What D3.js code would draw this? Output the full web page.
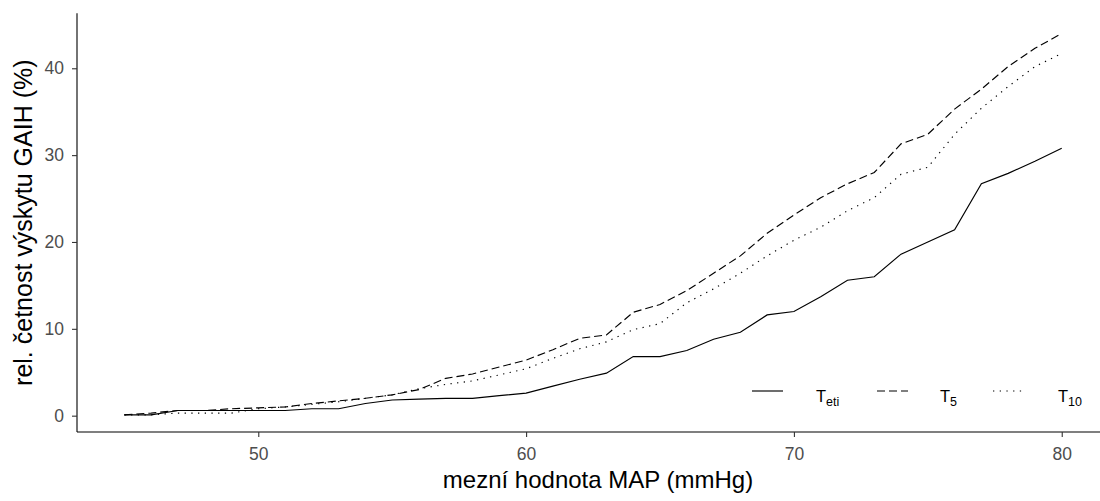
<!DOCTYPE html>
<html>
<head>
<meta charset="utf-8">
<script src="https://cdn.jsdelivr.net/npm/d3@7"></script>
<style>
  body { margin: 0; background: #fff; }
  svg { display: block; font-family: "Liberation Sans", Arial, sans-serif; }
</style>
</head>
<body>
<div id="chart"></div>
<script>
// hodnoty MAP (mmHg)
const mapValues = [45, 46, 47, 48, 49, 50, 51, 52, 53, 54, 55, 56, 57, 58, 59, 60, 61, 62,
                   63, 64, 65, 66, 67, 68, 69, 70, 71, 72, 73, 74, 75, 76, 77, 78, 79, 80]

// rel. cetnost (%) pro jednotlive definice
const tEti = [0.1, 0.1, 0.6, 0.6, 0.6, 0.6, 0.6, 0.8, 0.8, 1.4, 1.8, 1.9, 2.0, 2.0, 2.3, 2.6, 3.4, 4.2,
              4.9, 6.8, 6.8, 7.5, 8.8, 9.6, 11.6, 12.0, 13.7, 15.6, 16.0, 18.6, 20.0, 21.4, 26.7, 27.9, 29.3, 30.8]
const t5 = [0.1, 0.3, 0.6, 0.6, 0.8, 0.9, 1.0, 1.4, 1.7, 2.0, 2.4, 3.0, 4.3, 4.8, 5.6, 6.4, 7.6, 8.9,
            9.3, 11.9, 12.8, 14.4, 16.4, 18.4, 21.0, 23.1, 25.1, 26.7, 28.0, 31.3, 32.4, 35.3, 37.6, 40.2, 42.3, 44.0]
const t10 = [0.1, 0.1, 0.3, 0.3, 0.3, 0.8, 1.0, 1.3, 1.6, 2.0, 2.4, 3.1, 3.6, 4.0, 4.7, 5.4, 6.6, 7.7,
             8.5, 9.9, 10.6, 13.0, 14.6, 16.4, 18.4, 20.2, 21.7, 23.6, 25.1, 27.8, 28.6, 32.4, 35.4, 37.9, 40.2, 41.7]

const xTicks = [50, 60, 70, 80]
const yTicks = [0, 10, 20, 30, 40]

const seriesNames = ["eti", "5", "10"]
const dashes = [null, "8,4", "1.3,5.4"]

const W = 1100, H = 501

const svg = d3.select("#chart").append("svg")
    .attr("width", W)
    .attr("height", H)

//skaly
const x = d3.scaleLinear()
    .domain([43.25, 81.75])
    .range([77.5, 1108.6])

const y = d3.scaleLinear()
    .domain([-1.88, 46.33])
    .range([432, 13.3])

const series = [tEti, t5, t10].map((vals, i) => ({
    name: seriesNames[i],
    dash: dashes[i],
    values: mapValues.map((m, j) => ({m: m, v: vals[j]}))
}))

//osy
const xAxis = svg.append("g")
    .attr("transform", `translate(0, 432)`)
    .call(d3.axisBottom(x).tickValues(xTicks).tickSize(5).tickSizeOuter(0).tickPadding(11))

const yAxis = svg.append("g")
    .attr("transform", `translate(77, 0)`)
    .call(d3.axisLeft(y).tickValues(yTicks).tickSize(5).tickSizeOuter(0).tickPadding(8))

;[xAxis, yAxis].forEach(a => {
    a.select(".domain").attr("stroke", "#000").attr("stroke-width", 1.1)
    a.selectAll(".tick line").attr("stroke", "#333").attr("stroke-width", 1.1)
    a.selectAll(".tick text")
        .attr("fill", "#4d4d4d")
        .style("font-size", "17.5px")
        .style("font-family", '"Liberation Sans", Arial, sans-serif')
})
xAxis.select(".domain").attr("d", `M77,0H1100`)
yAxis.select(".domain").attr("d", `M0,13.3V432`)

//cary
const line = d3.line()
    .x(d => x(d.m))
    .y(d => y(d.v))

svg.selectAll("path.serie")
    .data(series)
    .enter()
    .append("path")
    .attr("class", "serie")
    .attr("d", d => line(d.values))
    .attr("fill", "none")
    .attr("stroke", "#000")
    .attr("stroke-width", 1.15)
    .attr("stroke-dasharray", d => d.dash)

//legenda
const legendKeys = [752, 877, 993]
const legendLabels = [816, 940, 1058]
const legend = svg.append("g")

series.forEach((s, i) => {
    legend.append("line")
        .attr("x1", legendKeys[i]).attr("x2", legendKeys[i] + 31)
        .attr("y1", 391).attr("y2", 391)
        .attr("stroke", "#000")
        .attr("stroke-width", 1.15)
        .attr("stroke-dasharray", s.dash)
    const t = legend.append("text")
        .attr("x", legendLabels[i])
        .attr("y", 402)
        .style("font-size", "16.5px")
        .attr("fill", "#000")
    t.append("tspan").text("T")
    t.append("tspan").attr("dy", 4).style("font-size", "12.5px").text(s.name)
})

//popisky os
svg.append("text")
    .attr("x", 598)
    .attr("y", 488)
    .attr("text-anchor", "middle")
    .style("font-size", "24px")
    .text("mezní hodnota MAP (mmHg)")

svg.append("text")
    .attr("transform", `translate(32, 222.7) rotate(-90)`)
    .attr("text-anchor", "middle")
    .style("font-size", "25px")
    .text("rel. četnost výskytu GAIH (%)")
</script>
</body>
</html>
